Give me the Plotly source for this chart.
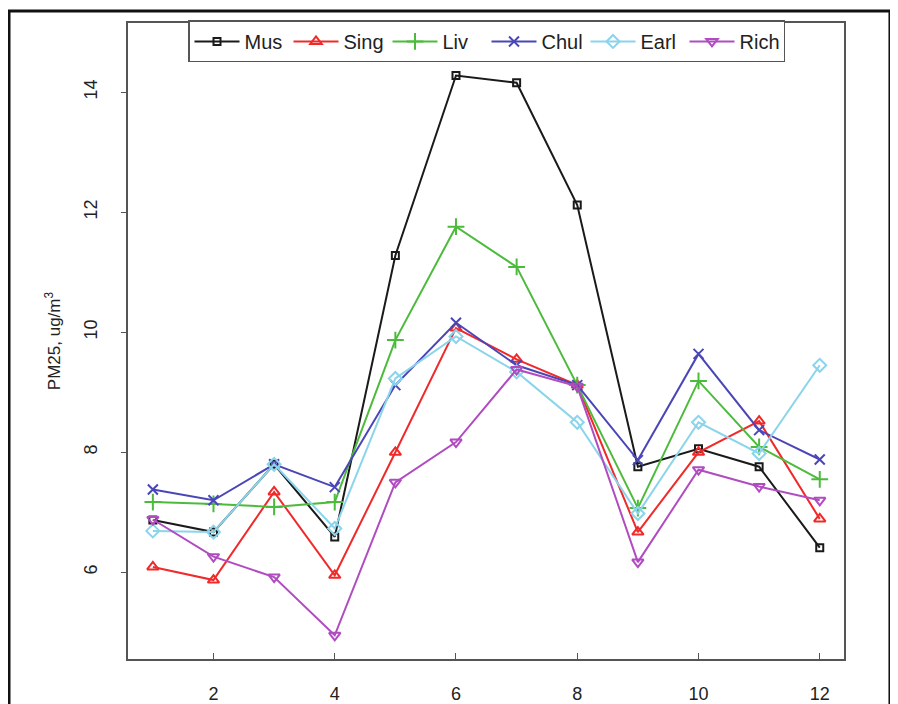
import plotly.graph_objects as go

months = [1, 2, 3, 4, 5, 6, 7, 8, 9, 10, 11, 12]

mus = [6.87, 6.67, 7.80, 6.59, 11.28, 14.28, 14.16, 12.12, 7.76, 8.06, 7.76, 6.41]
sing = [6.09, 5.87, 7.34, 5.95, 8.00, 10.07, 9.55, 9.12, 6.67, 8.00, 8.52, 6.89]
liv = [7.17, 7.14, 7.09, 7.17, 9.87, 11.76, 11.09, 9.12, 7.07, 9.19, 8.09, 7.55]
chul = [7.38, 7.20, 7.80, 7.42, 9.12, 10.16, 9.45, 9.12, 7.87, 9.64, 8.37, 7.88]
earl = [6.69, 6.67, 7.80, 6.73, 9.23, 9.93, 9.34, 8.50, 6.98, 8.50, 7.98, 9.45]
rich = [6.88, 6.26, 5.92, 4.95, 7.50, 8.17, 9.38, 9.10, 6.17, 7.71, 7.43, 7.20]

series = [
    ("Mus", mus, "#1a1a1a", "square-open", 7),
    ("Sing", sing, "#f02a2a", "triangle-up-open", 10),
    ("Liv", liv, "#4cbb3c", "cross-thin-open", 12),
    ("Chul", chul, "#4a46b8", "x-thin-open", 10),
    ("Earl", earl, "#8ad4ec", "diamond-open", 10),
    ("Rich", rich, "#b04cc0", "triangle-down-open", 10),
]

x_ticks = [2, 4, 6, 8, 10, 12]
y_ticks = [6, 8, 10, 12, 14]

fig = go.Figure()
for name, vals, color, sym, size in series:
    fig.add_trace(go.Scatter(
        x=months, y=vals, name=name, mode="lines+markers",
        line=dict(color=color, width=2),
        marker=dict(symbol=sym, size=size, color=color,
                    line=dict(color=color, width=2)),
    ))

font_family = "Liberation Sans, Arial, sans-serif"

# page body has an 8px margin: figure is sized/offset to compensate
fig.update_layout(
    width=890, height=696,
    margin=dict(l=120, r=54, t=15, b=45),
    paper_bgcolor="white", plot_bgcolor="white",
    font=dict(family=font_family, size=18, color="#222"),
    showlegend=True,
    legend=dict(
        orientation="h", x=0.0838, y=1.004, xanchor="left", yanchor="top",
        bordercolor="#555", borderwidth=1.5, bgcolor="white",
        font=dict(size=20, color="#222"),
        itemwidth=45,
        entrywidth=39, entrywidthmode="pixels",
    ),
    xaxis=dict(
        range=[0.59, 12.4], tickvals=x_ticks, ticks="inside", ticklen=6,
        tickcolor="#555", showgrid=False, zeroline=False, automargin=False,
        showline=True, linecolor="#555", linewidth=1.5, mirror=True,
        ticklabelstandoff=18, tickfont=dict(size=18),
    ),
    yaxis=dict(
        range=[4.555, 15.155], tickvals=y_ticks, ticks="outside", ticklen=5,
        tickcolor="#555", showgrid=False, zeroline=False, automargin=False,
        showline=True, linecolor="#555", linewidth=1.5, mirror=True,
        tickangle=-90, ticklabelstandoff=17, tickfont=dict(size=18),
        title=dict(text="PM25, ug/m<sup>3</sup>", standoff=16,
                   font=dict(size=17)),
    ),
    shapes=[dict(
        type="rect", xref="paper", yref="paper",
        x0=-0.1662, x1=1.0642, y0=-0.2, y1=1.0189,
        line=dict(color="#111", width=3), fillcolor="rgba(0,0,0,0)",
        layer="above",
    )],
)

fig.write_html("out.html")
